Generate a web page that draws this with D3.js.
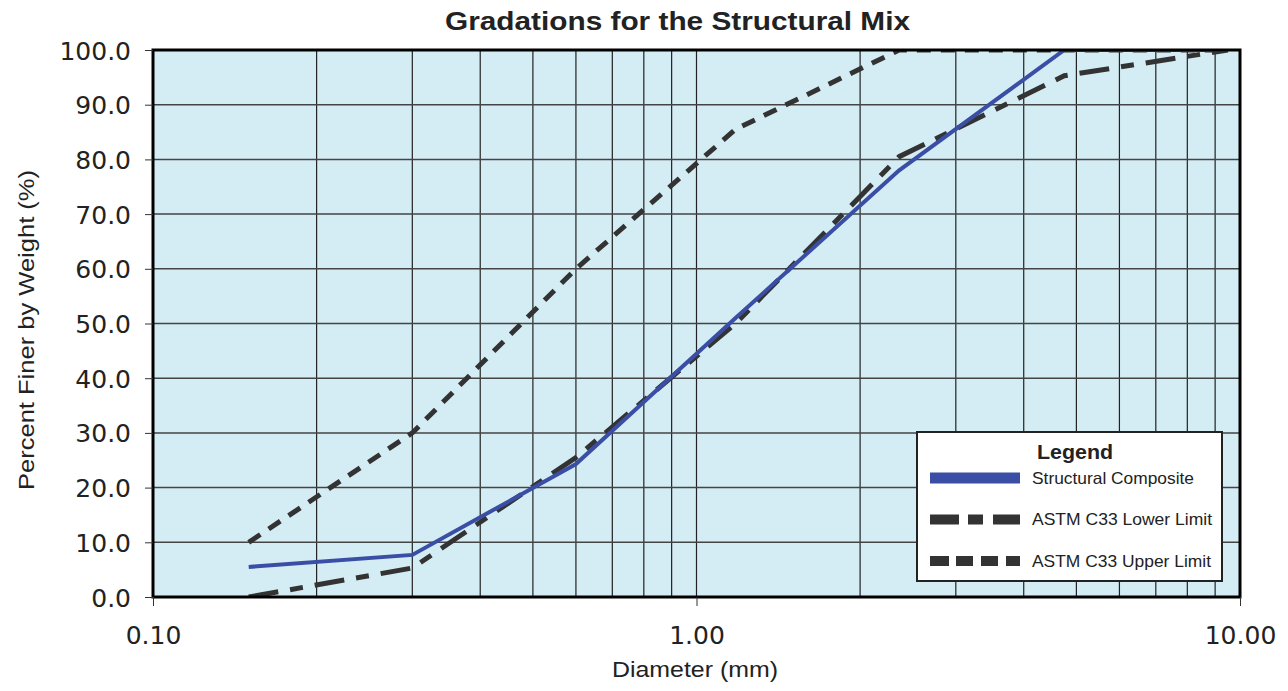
<!DOCTYPE html>
<html>
<head>
<meta charset="utf-8">
<script src="https://cdn.jsdelivr.net/npm/d3@7"></script>
<style>
  body { margin: 0; background: #fff; }
  svg text { fill: #222; }
</style>
</head>
<body>
<div id="chart"></div>
<script>
// sieve sizes (mm) and percent passing
var sieveSizes = [0.15, 0.3, 0.6, 1.18, 2.36, 4.75, 9.5];
var composite = [5.5, 7.7, 24.3, 51, 78, 100, 100];
var lowerLimit = [0, 5.3, 25.5, 50, 80.5, 95.3, 100];
var upperLimit = [10, 30, 60, 85.5, 100, 100, 100];

var yTicks = [0, 10, 20, 30, 40, 50, 60, 70, 80, 90, 100];
var xMajor = [0.1, 1, 10];
var xGrid = [0.2, 0.3, 0.4, 0.5, 0.6, 0.7, 0.8, 0.9, 1, 2, 3, 4, 5, 6, 7, 8, 9];

var series = [
  { name: 'Structural Composite', values: composite, color: '#3a4ea6', width: 4, dash: null },
  { name: 'ASTM C33 Lower Limit', values: lowerLimit, color: '#333', width: 5, dash: '30,12,13,12' },
  { name: 'ASTM C33 Upper Limit', values: upperLimit, color: '#333', width: 5, dash: '14,10' },
];

var width = 1288;
var height = 691;
var margins = { top: 50, right: 48, bottom: 94, left: 153 };
var chartWidth = width - margins.left - margins.right;
var chartHeight = height - margins.top - margins.bottom;

var sansFont = 'Liberation Sans, Arial, sans-serif';
var tickFont = 'DejaVu Sans, Verdana, sans-serif';

var svg = d3.select('#chart').append('svg')
  .attr('width', width)
  .attr('height', height);

svg.append('defs').append('clipPath')
  .attr('id', 'plot-clip')
  .append('rect')
  .attr('width', chartWidth)
  .attr('height', chartHeight);

var chart = svg.append('g')
  .attr('transform', `translate(${margins.left},${margins.top})`);

var x = d3.scaleLog().domain([0.1, 10]).range([0, chartWidth]);
var y = d3.scaleLinear().domain([0, 100]).range([chartHeight, 0]);

// plot background
chart.append('rect')
  .attr('width', chartWidth)
  .attr('height', chartHeight)
  .attr('fill', '#d4ecf3');

// grid
chart.selectAll('.vgrid')
  .data(xGrid)
  .enter().append('line')
  .attr('class', 'vgrid')
  .attr('x1', d => x(d)).attr('x2', d => x(d))
  .attr('y1', 0).attr('y2', chartHeight)
  .attr('stroke', '#222').attr('stroke-width', 1.2);

chart.selectAll('.hgrid')
  .data(yTicks.slice(1, -1))
  .enter().append('line')
  .attr('class', 'hgrid')
  .attr('x1', 0).attr('x2', chartWidth)
  .attr('y1', d => y(d)).attr('y2', d => y(d))
  .attr('stroke', '#444').attr('stroke-width', 1.5);

// lines (clipped so the 100% runs hide under the frame)
var line = d3.line()
  .x((d, i) => x(sieveSizes[i]))
  .y(d => y(d));

chart.append('g')
  .attr('clip-path', 'url(#plot-clip)')
  .selectAll('.series')
  .data(series.slice().reverse())
  .enter().append('path')
  .attr('class', 'series')
  .attr('d', d => line(d.values))
  .attr('fill', 'none')
  .attr('stroke', d => d.color)
  .attr('stroke-width', d => d.width)
  .attr('stroke-dasharray', d => d.dash);

// frame
chart.append('rect')
  .attr('width', chartWidth)
  .attr('height', chartHeight)
  .attr('fill', 'none')
  .attr('stroke', '#000')
  .attr('stroke-width', 3);

// axes
var yAxis = d3.axisLeft(y)
  .tickValues(yTicks)
  .tickSize(8)
  .tickPadding(14)
  .tickFormat(d3.format('.1f'));

var xAxis = d3.axisBottom(x)
  .tickValues(xMajor)
  .tickSize(9)
  .tickPadding(20)
  .tickFormat(d3.format('.2f'));

chart.append('g').call(yAxis)
  .call(g => g.select('.domain').remove())
  .call(g => g.selectAll('line').attr('stroke', '#333'))
  .call(g => g.selectAll('text').attr('font-family', tickFont).attr('font-size', 25).attr('dy', '0.36em'));

chart.append('g')
  .attr('transform', `translate(0,${chartHeight})`)
  .call(xAxis)
  .call(g => g.select('.domain').remove())
  .call(g => g.selectAll('line').attr('stroke', '#333'))
  .call(g => g.selectAll('text').attr('font-family', tickFont).attr('font-size', 25));

// titles
svg.append('text')
  .attr('x', 445).attr('y', 30)
  .attr('font-family', sansFont)
  .attr('font-weight', 'bold')
  .attr('font-size', 25)
  .attr('textLength', 465)
  .attr('lengthAdjust', 'spacingAndGlyphs')
  .text('Gradations for the Structural Mix');

svg.append('text')
  .attr('x', 612).attr('y', 677)
  .attr('font-family', sansFont)
  .attr('font-size', 21.5)
  .attr('textLength', 166)
  .attr('lengthAdjust', 'spacingAndGlyphs')
  .text('Diameter (mm)');

svg.append('text')
  .attr('transform', 'translate(34,490) rotate(-90)')
  .attr('font-family', sansFont)
  .attr('font-size', 22)
  .attr('textLength', 320)
  .attr('lengthAdjust', 'spacingAndGlyphs')
  .text('Percent Finer by Weight (%)');

// legend
var legend = svg.append('g').attr('transform', 'translate(917,432)');

legend.append('rect')
  .attr('width', 305).attr('height', 149)
  .attr('fill', '#fff')
  .attr('stroke', '#222')
  .attr('stroke-width', 2);

legend.append('text')
  .attr('x', 120).attr('y', 27)
  .attr('font-family', sansFont)
  .attr('font-weight', 'bold')
  .attr('font-size', 20)
  .attr('textLength', 76)
  .attr('lengthAdjust', 'spacingAndGlyphs')
  .text('Legend');

var legendItem = legend.selectAll('.legend-item')
  .data(series)
  .enter().append('g')
  .attr('class', 'legend-item')
  .attr('transform', (d, i) => `translate(0,${46 + i * 41.5})`);

legendItem.append('line')
  .attr('x1', 13).attr('x2', 103)
  .attr('stroke', d => d.color)
  .attr('stroke-width', (d, i) => i == 0 ? 11 : 10)
  .attr('stroke-dasharray', (d, i) => i == 0 ? null : (i == 1 ? '29,9,15,10,27' : '19,7,17,8,17,8,14'));

legendItem.append('text')
  .attr('x', 115).attr('dy', '0.35em')
  .attr('font-family', sansFont)
  .attr('font-size', 16.5)
  .attr('textLength', (d, i) => [162, 180, 179][i])
  .attr('lengthAdjust', 'spacingAndGlyphs')
  .text(d => d.name);
</script>
</body>
</html>
